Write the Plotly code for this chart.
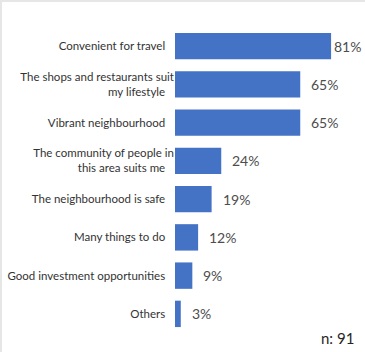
import plotly.graph_objects as go

categories = [
    "Convenient for travel",
    "The shops and restaurants suit<br>my lifestyle",
    "Vibrant neighbourhood",
    "The community of people in<br>this area suits me",
    "The neighbourhood is safe",
    "Many things to do",
    "Good investment opportunities",
    "Others",
]
values = [81, 65, 65, 24, 19, 12, 9, 3]
value_labels = ["81%", "65%", "65%", "24%", "19%", "12%", "9%", "3%"]
sample_note = "n: 91"

BAR_COLOR = "#4472C4"
FONT = "Lato, 'Open Sans', sans-serif"

# plot area geometry in pixels (used to place paper-relative items)
W, H = 365, 352
ML, MR, MT, MB = 175, 0, 27, 19
PW, PH = W - ML - MR, H - MT - MB

fig = go.Figure(
    go.Bar(
        x=values,
        y=categories,
        orientation="h",
        marker=dict(color=BAR_COLOR, line=dict(width=0)),
        hoverinfo="skip",
    )
)

# value labels to the right of each bar; the longest bar's label sits
# closer so it stays inside the frame
for cat, v, lab in zip(categories, values, value_labels):
    fig.add_annotation(
        x=v, y=cat, xref="x", yref="y",
        text=lab, showarrow=False,
        xanchor="left", yanchor="middle",
        xshift=9 if v < 75 else 1,
        font=dict(family=FONT, size=14, color="#4d4d4d"),
    )

# sample size note in the bottom-right corner
fig.add_annotation(
    x=(356 - ML) / PW, y=-(349 - (H - MB)) / PH, xref="paper", yref="paper",
    text=sample_note, showarrow=False,
    xanchor="right", yanchor="bottom",
    font=dict(family=FONT, size=15, color="#262626"),
)

fig.update_layout(
    width=W, height=H,
    margin=dict(l=ML, r=MR, t=MT, b=MB, pad=0),
    paper_bgcolor="white", plot_bgcolor="white",
    bargap=0.31,
    showlegend=False,
    xaxis=dict(range=[0, 98.6], visible=False, fixedrange=True),
    yaxis=dict(
        autorange="reversed", showgrid=False, zeroline=False,
        showline=False, ticks="", ticksuffix="   ",
        tickfont=dict(family=FONT, size=11.5, color="#333333"),
        fixedrange=True,
    ),
    # thin light frame along the top and left edges
    shapes=[
        dict(type="rect", xref="paper", yref="paper",
             x0=-ML / PW, x1=1.0, y0=1 + (MT - 2) / PH, y1=1 + MT / PH,
             fillcolor="#e6e6e6", line=dict(width=0), layer="below"),
        dict(type="rect", xref="paper", yref="paper",
             x0=-ML / PW, x1=-(ML - 2) / PW, y0=-MB / PH, y1=1 + MT / PH,
             fillcolor="#e6e6e6", line=dict(width=0), layer="below"),
    ],
)

fig.write_html("out.html", config={"displayModeBar": False})
